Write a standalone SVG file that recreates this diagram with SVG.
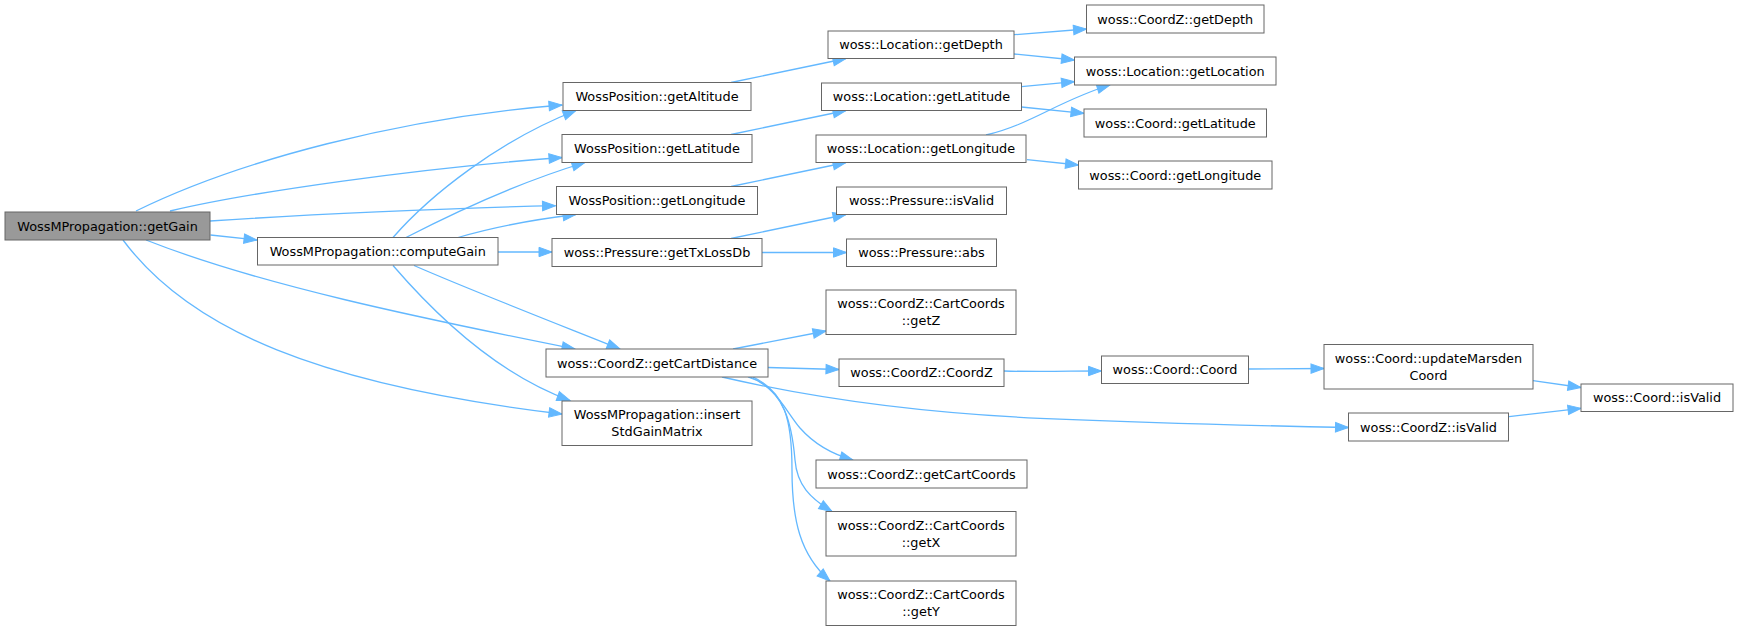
<svg xmlns="http://www.w3.org/2000/svg" width="1738" height="631" viewBox="0 0 1738 631">
<style>
.n rect{fill:#ffffff;stroke:#666666;stroke-width:1}
.n.root rect{fill:#999999}
.n text{font-family:"DejaVu Sans","Liberation Sans",sans-serif;font-size:12.85px;fill:#000000;text-anchor:middle}
.e path{fill:none;stroke:#63b8ff;stroke-width:1.3;marker-end:url(#arr)}
</style>
<defs>
<marker id="arr" markerUnits="userSpaceOnUse" markerWidth="14" markerHeight="10" viewBox="0 -5 14 10" refX="13" refY="0" orient="auto" overflow="visible">
<path d="M0,-4.7 L13,0 L0,4.7 Z" fill="#63b8ff" stroke="#63b8ff" stroke-width="1"/>
</marker>
</defs>
<rect x="0" y="0" width="1738" height="631" fill="#ffffff"/>
<g id="edges" class="e">
<path d="M136,211 C240,160 400,118 562,105"/>
<path d="M170,211 C250,192 420,168 562,157.5"/>
<path d="M210,221 C300,215 450,208 555.5,205.7"/>
<path d="M210.5,235 L257,240"/>
<path d="M146,240 C260,285 420,318 575,349"/>
<path d="M123,240 C190,330 320,385 562,414"/>
<path d="M393,237.5 C430,195 500,140 576,110.5"/>
<path d="M406,237.5 C440,220 510,185 585,162.5"/>
<path d="M458,237.5 C490,228 530,220 576,214.5"/>
<path d="M498,252 L552,252"/>
<path d="M414,265.5 C470,290 560,325 620,349"/>
<path d="M393,265.5 C440,320 500,375 570,400.5"/>
<path d="M731,82.5 L846,58.5"/>
<path d="M731,134.5 L846,110.5"/>
<path d="M731,186.5 L846,162.5"/>
<path d="M731,238.5 L846,214.5"/>
<path d="M762,252.5 L846.5,252.5"/>
<path d="M1014,34.7 L1086.5,29"/>
<path d="M1014,54 L1074.5,60"/>
<path d="M1021.5,86.7 L1074.5,81.7"/>
<path d="M1021.5,107 L1084,113.3"/>
<path d="M986,135 C1030,125 1060,100 1110,85"/>
<path d="M1027,159.7 L1078.5,165"/>
<path d="M733,349 L826,331"/>
<path d="M768,367.5 L839,369.5"/>
<path d="M722,377 C800,395 900,412 1040,418.3 C1150,423 1250,425.5 1348.5,427.5"/>
<path d="M748,377 C775,385 785,410 800,428 C815,445 835,455 853,460"/>
<path d="M750,377 C785,390 792,425 795,460 C797,485 810,498 832,511.5"/>
<path d="M753,377 C785,392 792,420 792,470 C792,520 800,555 830,581"/>
<path d="M1004,371 C1040,372 1070,371 1101.5,371"/>
<path d="M1248.5,369 L1324,368.5"/>
<path d="M1533,380.7 L1581,387.5"/>
<path d="M1509,416.7 L1581,408.3"/>
</g>
<g id="n0" class="n root"><rect x="5" y="212" width="205" height="28"/><text x="107.5" y="230.6">WossMPropagation::getGain</text></g>
<g id="n1" class="n"><rect x="257.5" y="237.5" width="240.5" height="27.5"/><text x="377.75" y="255.8">WossMPropagation::computeGain</text></g>
<g id="n2" class="n"><rect x="563" y="82.5" width="188" height="28"/><text x="657" y="101.1">WossPosition::getAltitude</text></g>
<g id="n3" class="n"><rect x="562" y="134.5" width="190" height="28"/><text x="657" y="153.1">WossPosition::getLatitude</text></g>
<g id="n4" class="n"><rect x="556.5" y="186.5" width="201" height="28"/><text x="657" y="205.1">WossPosition::getLongitude</text></g>
<g id="n5" class="n"><rect x="552" y="238.5" width="210" height="28"/><text x="657" y="257.1">woss::Pressure::getTxLossDb</text></g>
<g id="n6" class="n"><rect x="546" y="349" width="222" height="28"/><text x="657" y="367.6">woss::CoordZ::getCartDistance</text></g>
<g id="n7" class="n"><rect x="562" y="401" width="190" height="44.5"/><text x="657" y="419">WossMPropagation::insert</text><text x="657" y="436">StdGainMatrix</text></g>
<g id="n8" class="n"><rect x="828" y="31" width="186" height="27.5"/><text x="921" y="49.4">woss::Location::getDepth</text></g>
<g id="n9" class="n"><rect x="821.5" y="83" width="200" height="27.5"/><text x="921.5" y="101.4">woss::Location::getLatitude</text></g>
<g id="n10" class="n"><rect x="816" y="135" width="210" height="27.5"/><text x="921" y="153.4">woss::Location::getLongitude</text></g>
<g id="n11" class="n"><rect x="836.5" y="187" width="170" height="27.5"/><text x="921.5" y="205.4">woss::Pressure::isValid</text></g>
<g id="n12" class="n"><rect x="846.5" y="239" width="150" height="27.5"/><text x="921.5" y="257.4">woss::Pressure::abs</text></g>
<g id="n13" class="n"><rect x="826" y="290" width="190" height="44.5"/><text x="921" y="308">woss::CoordZ::CartCoords</text><text x="921" y="325">::getZ</text></g>
<g id="n14" class="n"><rect x="839" y="359" width="165" height="27.5"/><text x="921.5" y="377.4">woss::CoordZ::CoordZ</text></g>
<g id="n15" class="n"><rect x="816" y="460" width="211" height="28"/><text x="921.5" y="478.6">woss::CoordZ::getCartCoords</text></g>
<g id="n16" class="n"><rect x="826" y="511.5" width="190" height="44.5"/><text x="921" y="529.5">woss::CoordZ::CartCoords</text><text x="921" y="546.5">::getX</text></g>
<g id="n17" class="n"><rect x="826" y="581" width="190" height="44.5"/><text x="921" y="599">woss::CoordZ::CartCoords</text><text x="921" y="616">::getY</text></g>
<g id="n18" class="n"><rect x="1086.5" y="5" width="177.5" height="28"/><text x="1175.25" y="23.6">woss::CoordZ::getDepth</text></g>
<g id="n19" class="n"><rect x="1074.5" y="57" width="201.5" height="28"/><text x="1175.25" y="75.6">woss::Location::getLocation</text></g>
<g id="n20" class="n"><rect x="1084" y="109" width="182.5" height="28"/><text x="1175.25" y="127.6">woss::Coord::getLatitude</text></g>
<g id="n21" class="n"><rect x="1078.5" y="161" width="193.5" height="28"/><text x="1175.25" y="179.6">woss::Coord::getLongitude</text></g>
<g id="n22" class="n"><rect x="1101.5" y="356" width="147" height="27.5"/><text x="1175" y="374.4">woss::Coord::Coord</text></g>
<g id="n23" class="n"><rect x="1324" y="344.5" width="209" height="44.5"/><text x="1428.5" y="362.5">woss::Coord::updateMarsden</text><text x="1428.5" y="379.5">Coord</text></g>
<g id="n24" class="n"><rect x="1348.5" y="413" width="160" height="28"/><text x="1428.5" y="431.6">woss::CoordZ::isValid</text></g>
<g id="n25" class="n"><rect x="1581" y="384" width="152" height="27.5"/><text x="1657" y="402.4">woss::Coord::isValid</text></g>
</svg>
